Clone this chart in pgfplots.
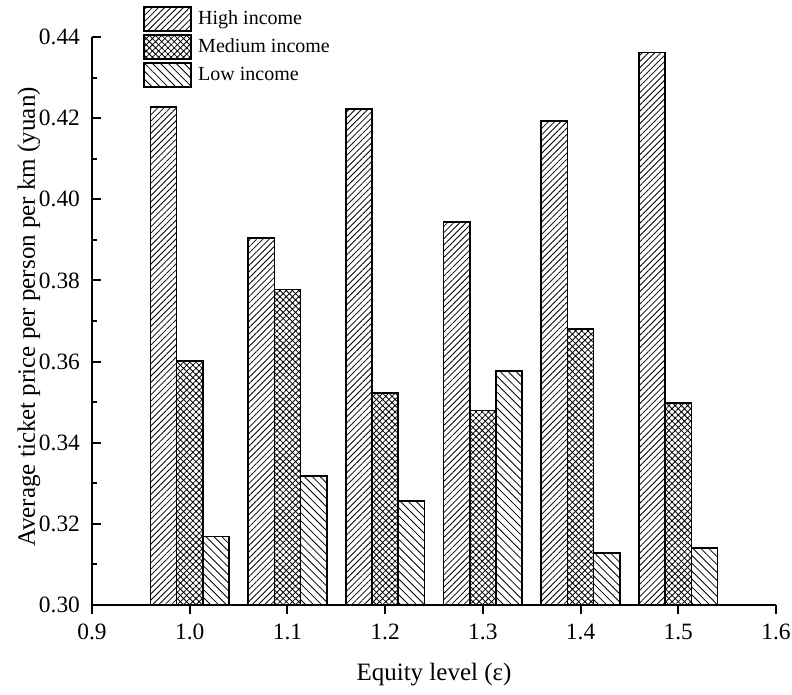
\documentclass[border=0pt]{standalone}
\usepackage{fontspec}
\setmainfont{Liberation Serif}
\usepackage{pgfplots}
\usepackage{pgfplotstable}
\pgfplotsset{compat=1.18}
\usetikzlibrary{patterns.meta,calc}

\pgfplotstableread{
x high medium low
1.0 0.4228 0.3602 0.3169
1.1 0.3905 0.3778 0.3318
1.2 0.4223 0.3522 0.3256
1.3 0.3944 0.3479 0.3577
1.4 0.4193 0.3680 0.3128
1.5 0.4362 0.3498 0.3141
}\datatable

\begin{document}
\begin{tikzpicture}
\begin{axis}[
  scale only axis,
  width=342pt, height=284pt,
  xmin=0.9, xmax=1.6, ymin=0.30, ymax=0.44,
  ybar=0pt, bar width=13.1pt,
  axis lines*=left,
  axis line style={line width=1pt},
  xtick={0.9,1.0,1.1,1.2,1.3,1.4,1.5,1.6},
  ytick={0.30,0.32,0.34,0.36,0.38,0.40,0.42,0.44},
  minor y tick num=1,
  tick align=inside,
  major tick length=4.5pt,
  minor tick length=2.5pt,
  tick style={line width=1pt, black},
  x tick style={yshift=-4.5pt},
  /pgf/number format/assume math mode=true,
  ticklabel style={font=\fontsize{11.7}{13}\selectfont},
  xticklabel style={/pgf/number format/fixed, /pgf/number format/fixed zerofill, /pgf/number format/precision=1, yshift=-6pt},
  yticklabel style={/pgf/number format/fixed, /pgf/number format/fixed zerofill, /pgf/number format/precision=2, xshift=-2.5pt},
  xlabel={Equity level (ε)},
  ylabel={Average ticket price per person per km (yuan)},
  label style={font=\fontsize{12.5}{15}\selectfont},
  xlabel style={at={(axis description cs:0.5,-0.1232)}, anchor=center},
  ylabel style={at={(axis description cs:-0.0921,0.507)}, anchor=center},
  legend style={at={(axis description cs:0.0746,1.0546)}, anchor=north west,
    draw=none, fill=none, inner sep=0pt, outer sep=0pt, row sep=1pt,
    font=\fontsize{10}{11}\selectfont,
    nodes={inner sep=0pt, anchor=west},
    /tikz/every odd column/.append style={column sep=3.3pt}},
  legend cell align=left,
  legend image code/.code={\draw[#1] (0pt,-6.1pt) rectangle (23.5pt,6.1pt);},
]
\addplot[draw=black, line width=0.8pt, pattern={Lines[angle=45,distance=2.2pt,line width=0.4pt]}, pattern color=black] table[x=x,y=high] {\datatable};
\addplot[draw=black, line width=0.8pt, pattern={Hatch[angle=45,distance=2.2pt,line width=0.4pt]}, pattern color=black] table[x=x,y=medium] {\datatable};
\addplot[draw=black, line width=0.8pt, pattern={Lines[angle=-45,distance=2.8pt,line width=0.4pt]}, pattern color=black] table[x=x,y=low] {\datatable};
\legend{High income, Medium income, Low income}
\end{axis}
\pgfresetboundingbox
\path ($(current axis.south west)+(-46pt,-45pt)$) rectangle ($(current axis.north east)+(8pt,18.5pt)$);
\end{tikzpicture}
\end{document}
